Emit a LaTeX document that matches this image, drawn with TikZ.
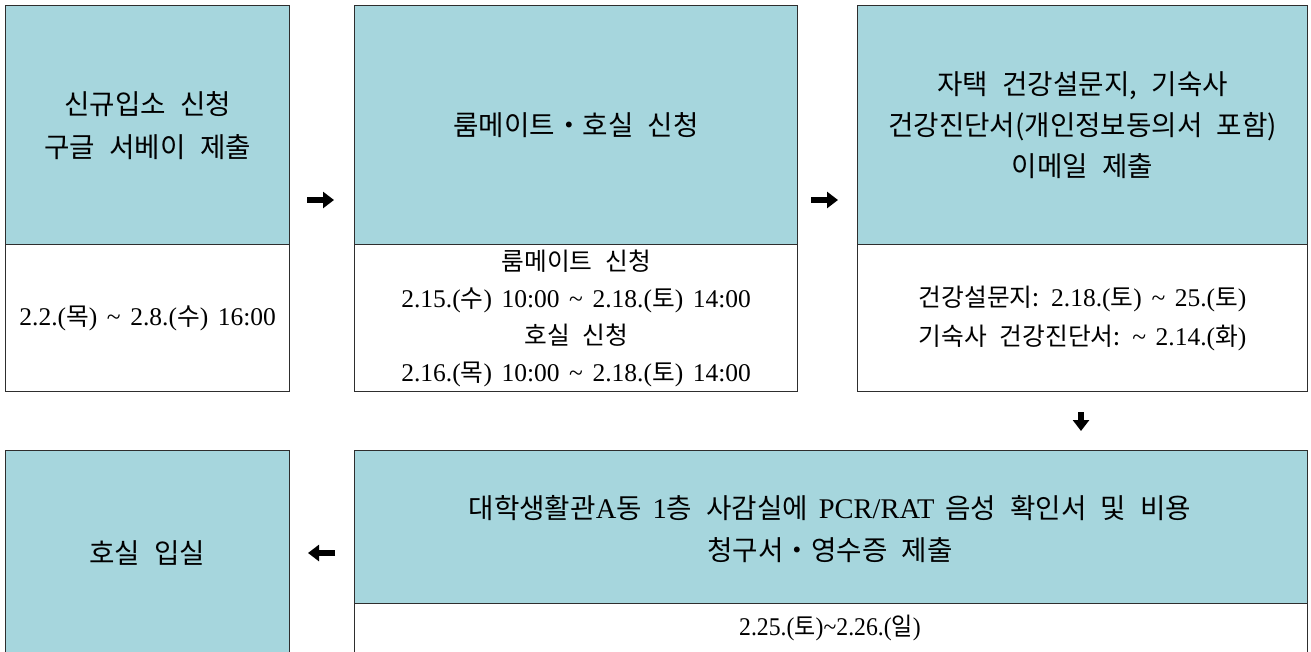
\documentclass[tikz,border=0pt]{standalone}
\usepackage{fontspec}
\setmainfont{Liberation Serif}[WordSpace=1.5]
\newfontfamily\kr{Noto Sans CJK KR}[Scale=0.97,WordSpace=2.3]
\usetikzlibrary{arrows.meta}
\definecolor{hdrfill}{HTML}{A6D6DD}
\definecolor{edgecol}{HTML}{2E2E2E}
\newcommand{\K}[1]{{\kr #1}}
\newcommand{\T}{\textasciitilde}
\begin{document}
\begin{tikzpicture}[x=1pt,y=-1pt,
  box/.style={draw=edgecol, line width=1.3pt, anchor=north west, inner sep=0pt},
  hdr/.style={box, fill=hdrfill},
  bodybox/.style={box, fill=white},
  htext/.style={align=center, font=\fontsize{28.5}{43}\selectfont, text=black, inner sep=0pt},
  btext/.style={align=center, font=\fontsize{25.5}{37}\selectfont, text=black, inner sep=0pt},
  bigarrow/.style={line width=5.5pt, -{Triangle[length=11pt,width=16pt]}}]
\useasboundingbox (0,0) rectangle (1311,651);
% top row
\node[hdr, minimum width=284pt, minimum height=239pt] (b1h) at (5,5) {};
\node[bodybox, minimum width=284pt, minimum height=147pt] (b1b) at (5,244) {};
\node[hdr, minimum width=443pt, minimum height=239pt] (b2h) at (354,5) {};
\node[bodybox, minimum width=443pt, minimum height=147pt] (b2b) at (354,244) {};
\node[hdr, minimum width=450pt, minimum height=239pt] (b3h) at (857,5) {};
\node[bodybox, minimum width=450pt, minimum height=147pt] (b3b) at (857,244) {};
% bottom row
\node[hdr, minimum width=284pt, minimum height=210pt] (b4) at (5,450) {};
\node[hdr, minimum width=953pt, minimum height=153pt] (b5h) at (354,450) {};
\node[bodybox, minimum width=953pt, minimum height=60pt] (b5b) at (354,603) {};
% texts
\node[htext] (t1h) at (b1h.center) {\K{신규입소 신청}\\\K{구글 서베이 제출}};
\node[btext] (t1b) at (b1b.center) {2.2.(\K{목}) \T\ 2.8.(\K{수}) 16:00};
\node[htext] (t2h) at (b2h.center) {\K{룸메이트・호실 신청}};
\node[btext] (t2b) at (b2b.center) {\K{룸메이트 신청}\\2.15.(\K{수}) 10:00 \T\ 2.18.(\K{토}) 14:00\\\K{호실 신청}\\2.16.(\K{목}) 10:00 \T\ 2.18.(\K{토}) 14:00};
\node[htext, font=\fontsize{28.5}{41}\selectfont] (t3h) at (b3h.center) {\K{자택 건강설문지, 기숙사}\\\K{건강진단서(개인정보동의서 포함)}\\\K{이메일 제출}};
\node[btext, font=\fontsize{25.5}{39}\selectfont] (t3b) at (b3b.center) {\K{건강설문지:} 2.18.(\K{토}) \T\ 25.(\K{토})\\\K{기숙사 건강진단서:} \T\ 2.14.(\K{화})};
\node[htext] (t4) at (147,553) {\K{호실 입실}};
\node[htext, font=\fontsize{28.5}{42}\selectfont] (t5h) at (830,529) {\K{대학생활관}A\K{동} 1\K{층 사감실에} PCR/RAT \K{음성 확인서 및 비용}\\\K{청구서・영수증 제출}};
\node[btext] (t5b) at (830,628) {\scalebox{0.93}[1]{2.25.(\K{토})\T2.26.(\K{일})}};
% arrows
\coordinate (a1s) at (307,200); \coordinate (a1e) at (334,200);
\coordinate (a2s) at (811,200); \coordinate (a2e) at (838,200);
\coordinate (a3s) at (1081,412); \coordinate (a3e) at (1081,431);
\coordinate (a4s) at (335,553); \coordinate (a4e) at (308,553);
\draw[bigarrow] (a1s) -- (a1e);
\draw[bigarrow] (a2s) -- (a2e);
\draw[bigarrow] (a3s) -- (a3e);
\draw[bigarrow] (a4s) -- (a4e);
\end{tikzpicture}
\end{document}
